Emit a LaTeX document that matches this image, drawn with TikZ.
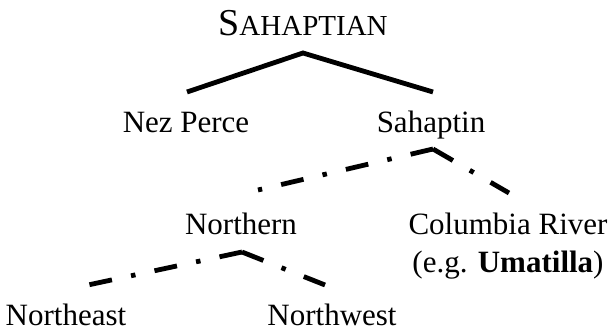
\documentclass[tikz,border=0pt]{standalone}
\usepackage{fontspec}
\setmainfont{Liberation Serif}
\begin{document}
\begin{tikzpicture}[
    x=1pt, y=1pt,
    lang/.style={anchor=base, inner sep=0pt, font=\fontsize{31}{38}\selectfont},
    solidBranch/.style={line width=4.8pt},
    dashBranch/.style={line width=4.8pt, dash pattern={on 23pt off 19.5pt on 4.5pt off 19.5pt}},
    every node/.style={
        text centered,
        }
        ]
    \useasboundingbox (0, 0) rectangle (616, 332);

    \node[lang] (family) at (303, 296) {{\fontsize{38}{40}\selectfont S}{\fontsize{29}{30}\selectfont AHAPTIAN}};

    \node[lang] (nezperce) at (186, 199) {Nez Perce};
    \node[lang] (sahaptin) at (431, 199) {Sahaptin};

    \node[lang] (northern) at (241, 97) {Northern};
    \node[lang, align=center] (columbia) at (508, 59) {Columbia River\\(e.g. \textbf{Umatilla})};

    \node[lang] (northeast) at (66, 6) {Northeast};
    \node[lang] (northwest) at (332, 6) {Northwest};

    % branch points
    \coordinate (familyB) at ([yshift=-17pt]family.base);
    \coordinate (sahaptinB) at ([xshift=2pt, yshift=-16pt]sahaptin.base);
    \coordinate (northernB) at ([xshift=1pt, yshift=-17pt]northern.base);

    \draw[solidBranch] ([xshift=1pt, yshift=41pt]nezperce.base) -- (familyB) -- ([xshift=2pt, yshift=41pt]sahaptin.base);

    \draw[dashBranch] (sahaptinB) -- ([xshift=17pt, yshift=45pt]northern.base);
    \draw[dashBranch] (sahaptinB) -- ([xshift=1pt, yshift=80pt]columbia.base);

    \draw[dashBranch] (northernB) -- ([xshift=22pt, yshift=41pt]northeast.base);
    \draw[dashBranch] (northernB) -- ([xshift=-7pt, yshift=41pt]northwest.base);
\end{tikzpicture}
\end{document}
